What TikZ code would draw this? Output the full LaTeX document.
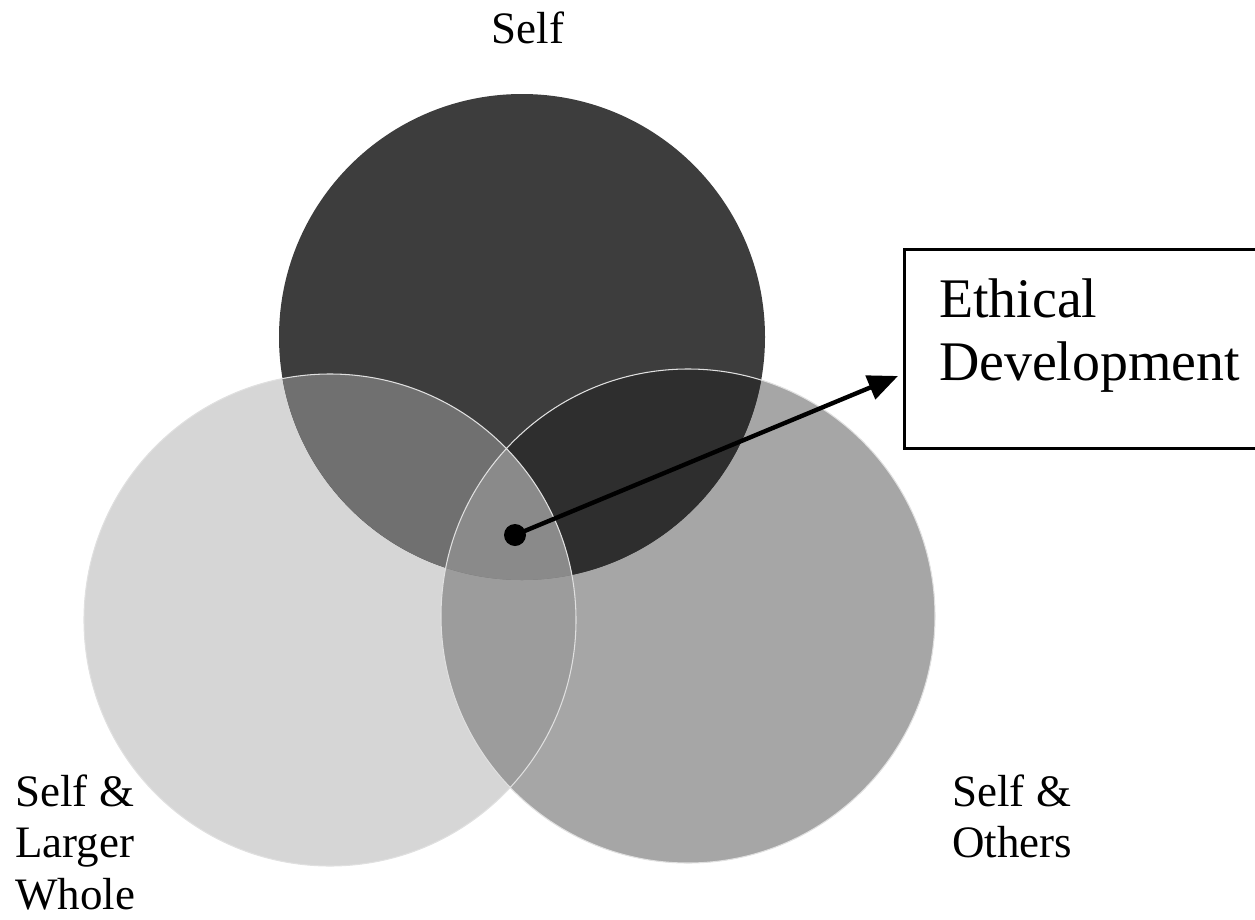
\documentclass[tikz,border=0pt]{standalone}
\usepackage{fontspec}
\setmainfont{Liberation Serif}
\usetikzlibrary{arrows.meta,positioning}

\begin{document}
\begin{tikzpicture}[x=0.02cm, y=-0.02cm,
  lbl/.style={inner sep=0pt, align=left, font=\fontsize{25.6}{29.5}\selectfont},
  ebox/.style={draw, line width=1.8pt, anchor=north west, inner xsep=0.64cm, inner ysep=0.58cm, text depth=0.78cm, minimum width=7.4cm, align=left, font=\fontsize{31.8}{35.9}\selectfont},
  arr/.style={-{Triangle[length=0.6cm, width=0.5cm]}, line width=2.5pt},
  dotnode/.style={circle, fill, inner sep=0pt, minimum size=0.44cm},
]
  \useasboundingbox (0,0) rectangle (1255,920);

  \coordinate (cs) at (522,337);
  \coordinate (cl) at (330,620);
  \coordinate (co) at (688,616);

  % the three circles
  \fill[black!16] (cl) circle (246);
  \fill[black!35] (co) circle (247);
  \fill[black!76] (cs) circle (243);
  \begin{scope}
    \clip (co) circle (247);
    \fill[black!82] (cs) circle (243);
  \end{scope}
  \begin{scope}
    \clip (cl) circle (246);
    \fill[black!39] (co) circle (247);
    \fill[black!56] (cs) circle (243);
    \clip (co) circle (247);
    \fill[black!46] (cs) circle (243);
  \end{scope}
  \draw[black!12, line width=0.6pt] (cl) circle (246) (co) circle (247);

  \node[lbl, anchor=base] (self) at (528,43) {Self};
  \node[lbl, anchor=north west] (whole) at (15,774) {Self \&\\Larger\\Whole};
  \node[lbl, anchor=north west] (others) at (952,774) {Self \&\\Others};
  \node[ebox] (ethic) at (903,248) {Ethical\\Development};

  \node[dotnode] (dot) at (515,535) {};
  \draw[arr] (dot.center) -- ([yshift=-0.54cm, xshift=-0.1cm]ethic.west);
\end{tikzpicture}
\end{document}
